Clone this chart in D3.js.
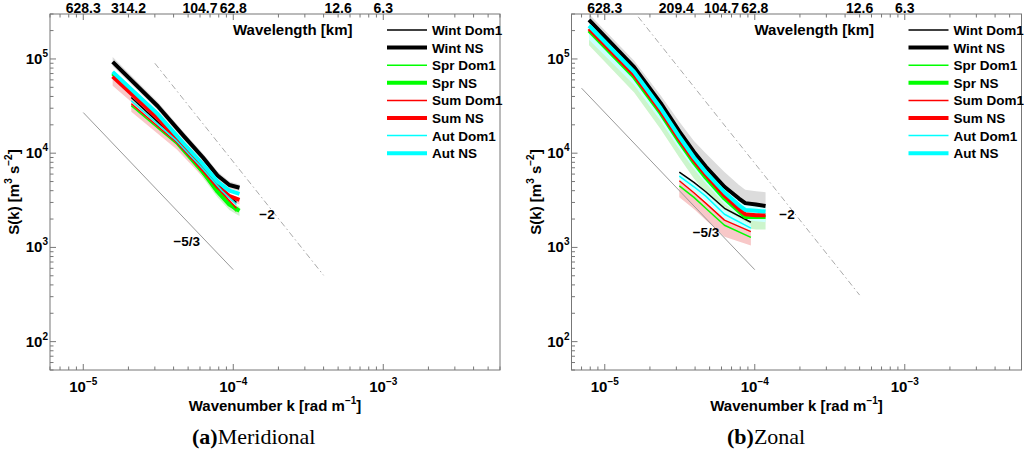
<!DOCTYPE html>
<html>
<head>
<meta charset="utf-8">
<script src="https://cdn.jsdelivr.net/npm/d3@7/dist/d3.min.js"></script>
<style>
  body { margin: 0; background: #fff; }
  text { font-family: "Liberation Sans", Arial, sans-serif; font-weight: bold; fill: #000; }
</style>
</head>
<body>
<svg id="chart" width="1024" height="457"></svg>
<script>
// legend / series
var seriesNames = ["Wint Dom1", "Wint NS", "Spr Dom1", "Spr NS", "Sum Dom1", "Sum NS", "Aut Dom1", "Aut NS"];
var seriesColors = ["#000000", "#000000", "#00ff00", "#00ff00", "#ff0000", "#ff0000", "#00ffff", "#00ffff"];

// wavelength axis (top)
var merTopK = [1e-5, 2e-5, 6e-5, 1e-4, 5e-4, 1e-3];
var merTopLabels = ["628.3", "314.2", "104.7", "62.8", "12.6", "6.3"];
var zonTopK = [1e-5, 3e-5, 6e-5, 1e-4, 5e-4, 1e-3];
var zonTopLabels = ["628.3", "209.4", "104.7", "62.8", "12.6", "6.3"];

// ---- (a) Meridional ----
var merKNS = [1.57e-5, 3.14e-5, 4.71e-5, 6.28e-5, 7.85e-5, 9.42e-5, 1.1e-4];
var merKDom1 = [2.09e-5, 4.19e-5, 6.28e-5, 8.38e-5, 1.05e-4];
var merWintDom1 = [3.9e4, 1.4e4, 7.2e3, 4.3e3, 3.0e3];
var merWintNS = [9.3e4, 3.15e4, 1.5e4, 9.0e3, 5.8e3, 4.6e3, 4.3e3];
var merSprDom1 = [3.2e4, 1.25e4, 6.0e3, 3.5e3, 2.4e3];
var merSprNS = [7.0e4, 2.45e4, 1.1e4, 6.3e3, 3.9e3, 2.85e3, 2.45e3];
var merSumDom1 = [3.35e4, 1.3e4, 6.5e3, 3.8e3, 2.6e3];
var merSumNS = [6.5e4, 2.35e4, 1.12e4, 6.7e3, 4.4e3, 3.5e3, 3.2e3];
var merAutDom1 = [3.6e4, 1.35e4, 6.8e3, 4.0e3, 2.85e3];
var merAutNS = [7.3e4, 2.6e4, 1.25e4, 7.6e3, 5.0e3, 4.0e3, 3.7e3];
// spread (shaded)
var merWintNSLo = [8.4e4, 2.85e4, 1.36e4, 8.2e3, 5.3e3, 4.2e3, 3.95e3];
var merWintNSHi = [1.05e5, 3.5e4, 1.65e4, 9.9e3, 6.4e3, 5.0e3, 4.65e3];
var merSprNSLo = [6.3e4, 2.2e4, 9.8e3, 5.5e3, 3.4e3, 2.5e3, 2.15e3];
var merSprNSHi = [7.4e4, 2.6e4, 1.17e4, 6.7e3, 4.2e3, 3.1e3, 2.7e3];
var merSumNSLo = [5.2e4, 2.0e4, 9.6e3, 5.8e3, 3.9e3, 3.1e3, 2.85e3];
var merSumNSHi = [6.9e4, 2.5e4, 1.18e4, 7.0e3, 4.6e3, 3.7e3, 3.35e3];
var merSumDom1Lo = [2.75e4, 1.1e4, 5.6e3, 3.3e3, 2.3e3];
var merSumDom1Hi = [3.6e4, 1.38e4, 6.9e3, 4.0e3, 2.75e3];
// reference slopes
var merSlope53K = [1e-5, 1e-4], merSlope53S = [2.7e4, 580];
var merSlope2K = [3e-5, 4e-4], merSlope2S = [9.0e4, 506];

// ---- (b) Zonal ----
var zonKNS = [7.85e-6, 1.57e-5, 2.36e-5, 3.14e-5, 3.93e-5, 4.71e-5, 6.28e-5, 7.85e-5, 8.64e-5, 1.02e-4, 1.18e-4];
var zonKDom1 = [3.14e-5, 3.93e-5, 4.71e-5, 6.28e-5, 9.42e-5];
var zonWintDom1 = [6.3e3, 4.9e3, 3.9e3, 2.6e3, 1.85e3];
var zonWintNS = [2.6e5, 8.2e4, 3.4e4, 1.7e4, 1.03e4, 7.2e3, 4.4e3, 3.3e3, 2.95e3, 2.85e3, 2.75e3];
var zonSprDom1 = [4.5e3, 3.4e3, 2.6e3, 1.72e3, 1.28e3];
var zonSprNS = [2.0e5, 6.4e4, 2.65e4, 1.32e4, 7.9e3, 5.5e3, 3.3e3, 2.4e3, 2.1e3, 2.1e3, 2.1e3];
var zonSumDom1 = [5.1e3, 3.8e3, 2.95e3, 1.95e3, 1.47e3];
var zonSumNS = [2.1e5, 6.8e4, 2.8e4, 1.4e4, 8.4e3, 5.9e3, 3.55e3, 2.55e3, 2.25e3, 2.2e3, 2.2e3];
var zonAutDom1 = [5.7e3, 4.4e3, 3.5e3, 2.25e3, 1.6e3];
var zonAutNS = [2.25e5, 7.3e4, 3.0e4, 1.5e4, 9.0e3, 6.3e3, 3.85e3, 2.8e3, 2.5e3, 2.45e3, 2.4e3];
var zonWintNSLo = [2.2e5, 7.0e4, 2.9e4, 1.45e4, 8.8e3, 6.2e3, 3.8e3, 2.8e3, 2.5e3, 2.4e3, 2.35e3];
var zonWintNSHi = [3.0e5, 9.6e4, 4.1e4, 2.15e4, 1.35e4, 1.0e4, 6.3e3, 4.6e3, 4.1e3, 3.95e3, 3.85e3];
var zonSprNSLo = [1.4e5, 4.4e4, 1.8e4, 9.0e3, 5.4e3, 3.8e3, 2.3e3, 1.75e3, 1.6e3, 1.55e3, 1.55e3];
var zonSprNSHi = [2.1e5, 6.8e4, 2.8e4, 1.4e4, 8.4e3, 5.9e3, 3.5e3, 2.5e3, 2.2e3, 2.2e3, 2.2e3];
var zonAutNSLo = [1.6e5, 5.3e4, 2.2e4, 1.1e4, 6.8e3, 4.8e3, 2.9e3, 2.15e3, 1.95e3, 1.9e3, 1.85e3];
var zonAutNSHi = [2.5e5, 8.0e4, 3.3e4, 1.65e4, 1.0e4, 7.0e3, 4.3e3, 3.1e3, 2.8e3, 2.75e3, 2.7e3];
var zonSumDom1Lo = [3.4e3, 2.55e3, 1.95e3, 1.3e3, 1.05e3];
var zonSumDom1Hi = [5.1e3, 3.8e3, 2.95e3, 1.95e3, 1.47e3];
var zonAutDom1Lo = [5.0e3, 3.9e3, 3.1e3, 2.0e3, 1.45e3];
var zonAutDom1Hi = [6.2e3, 4.8e3, 3.8e3, 2.5e3, 1.75e3];
var zonSlope53K = [7e-6, 1e-4], zonSlope53S = [4.9e4, 580];
var zonSlope2K = [1.67e-5, 5e-4], zonSlope2S = [2.8e5, 312];

var svg = d3.select("#chart");
var plotTop = 14, plotBottom = 370, plotW = 450;
var axisColor = "#777";

var panels = [
  { x0: 50, tag: "a", title: "Meridional", capX: 192, topK: merTopK, topLabels: merTopLabels,
    kNS: merKNS, kDom1: merKDom1,
    series: [merWintDom1, merWintNS, merSprDom1, merSprNS, merSumDom1, merSumNS, merAutDom1, merAutNS],
    bands: [
      { k: merKNS, lo: merWintNSLo, hi: merWintNSHi, fill: "#dcdcdc" },
      { k: merKNS, lo: merSprNSLo, hi: merSprNSHi, fill: "#ccf5cc" },
      { k: merKNS, lo: merSumNSLo, hi: merSumNSHi, fill: "#f8c8c8" },
      { k: merKDom1, lo: merSumDom1Lo, hi: merSumDom1Hi, fill: "#f8c8c8" }
    ],
    s53: [merSlope53K, merSlope53S], s2: [merSlope2K, merSlope2S],
    l53: [4.9e-5, 1.03e3], l2: [1.68e-4, 2.0e3] },
  { x0: 571.5, tag: "b", title: "Zonal", capX: 727, topK: zonTopK, topLabels: zonTopLabels,
    kNS: zonKNS, kDom1: zonKDom1,
    series: [zonWintDom1, zonWintNS, zonSprDom1, zonSprNS, zonSumDom1, zonSumNS, zonAutDom1, zonAutNS],
    bands: [
      { k: zonKNS, lo: zonWintNSLo, hi: zonWintNSHi, fill: "#dcdcdc" },
      { k: zonKNS, lo: zonSprNSLo, hi: zonSprNSHi, fill: "#ccf5cc" },
      { k: zonKNS, lo: zonAutNSLo, hi: zonAutNSHi, fill: "#ccffff" },
      { k: zonKDom1, lo: zonSumDom1Lo, hi: zonSumDom1Hi, fill: "#f8c8c8" },
      { k: zonKDom1, lo: zonAutDom1Lo, hi: zonAutDom1Hi, fill: "#ccffff" }
    ],
    s53: [zonSlope53K, zonSlope53S], s2: [zonSlope2K, zonSlope2S],
    l53: [4.73e-5, 1.29e3], l2: [1.64e-4, 2.0e3] }
];

function isMajor(t) {
  var l = Math.log10(t);
  return Math.abs(l - Math.round(l)) < 1e-9;
}

function sup(sel, base, expo) {
  sel.append("tspan").text(base);
  sel.append("tspan").attr("dy", -7).attr("font-size", 10).text(expo);
}

panels.forEach(function(p, pi) {
  var x = d3.scaleLog().domain([6e-6, 6e-3]).range([p.x0, p.x0 + plotW]);
  var y = d3.scaleLog().domain([50, 3e5]).range([plotBottom, plotTop]);
  var g = svg.append("g");

  var clipId = "clip" + pi;
  svg.append("clipPath").attr("id", clipId).append("rect")
    .attr("x", p.x0).attr("y", plotTop).attr("width", plotW).attr("height", plotBottom - plotTop);
  var data = g.append("g").attr("clip-path", "url(#" + clipId + ")");

  // shaded spread
  p.bands.forEach(function(b) {
    var area = d3.area()
      .x(function(d, i) { return x(b.k[i]); })
      .y0(function(d, i) { return y(b.lo[i]); })
      .y1(function(d, i) { return y(b.hi[i]); });
    data.append("path").attr("d", area(b.k)).attr("fill", b.fill).attr("stroke", "none");
  });

  // reference slopes
  var ref = d3.line().x(function(d) { return x(d[0]); }).y(function(d) { return y(d[1]); });
  data.append("path").attr("d", ref(d3.zip(p.s53[0], p.s53[1])))
    .attr("stroke", "#999").attr("stroke-width", 1).attr("fill", "none");
  data.append("path").attr("d", ref(d3.zip(p.s2[0], p.s2[1])))
    .attr("stroke", "#aaa").attr("stroke-width", 1).attr("fill", "none")
    .attr("stroke-dasharray", "6,3,1.5,3");

  // spectra
  p.series.forEach(function(s, i) {
    var ks = (i % 2 === 0) ? p.kDom1 : p.kNS;
    data.append("path").attr("d", ref(d3.zip(ks, s)))
      .attr("stroke", seriesColors[i])
      .attr("stroke-width", i % 2 === 0 ? 1.5 : 4)
      .attr("stroke-linejoin", "round")
      .attr("fill", "none");
  });

  g.append("text").attr("x", x(p.l53[0])).attr("y", y(p.l53[1]))
    .attr("text-anchor", "middle").attr("font-size", 13.5).text("\u22125/3");
  g.append("text").attr("x", x(p.l2[0])).attr("y", y(p.l2[1]))
    .attr("text-anchor", "middle").attr("font-size", 13.5).text("\u22122");

  // frame + ticks
  g.append("rect").attr("x", p.x0).attr("y", plotTop).attr("width", plotW)
    .attr("height", plotBottom - plotTop).attr("fill", "none").attr("stroke", axisColor);

  x.ticks().forEach(function(t) {
    var len = isMajor(t) ? 6 : 3.5, xx = x(t);
    g.append("line").attr("x1", xx).attr("x2", xx).attr("y1", plotBottom).attr("y2", plotBottom - len)
      .attr("stroke", axisColor);
    g.append("line").attr("x1", xx).attr("x2", xx).attr("y1", plotTop).attr("y2", plotTop + len)
      .attr("stroke", axisColor);
    if (isMajor(t)) {
      var tx = g.append("text").attr("x", xx).attr("y", 392).attr("text-anchor", "middle").attr("font-size", 15);
      sup(tx, "10", "\u2212" + Math.abs(Math.round(Math.log10(t))));
    }
  });
  y.ticks().forEach(function(t) {
    var len = isMajor(t) ? 6 : 3.5, yy = y(t);
    g.append("line").attr("x1", p.x0).attr("x2", p.x0 + len).attr("y1", yy).attr("y2", yy)
      .attr("stroke", axisColor);
    if (isMajor(t)) {
      var ty = g.append("text").attr("x", p.x0 - 2).attr("y", yy + 5).attr("text-anchor", "end").attr("font-size", 15);
      sup(ty, "10", String(Math.round(Math.log10(t))));
    }
  });

  // wavelength labels on top
  p.topK.forEach(function(k, i) {
    g.append("text").attr("x", x(k)).attr("y", 13).attr("text-anchor", "middle")
      .attr("font-size", 14).text(p.topLabels[i]);
  });
  g.append("text").attr("x", p.x0 + 183).attr("y", 35).attr("font-size", 15).text("Wavelength [km]");

  // axis titles
  var xt = g.append("text").attr("x", p.x0 + plotW / 2).attr("y", 411)
    .attr("text-anchor", "middle").attr("font-size", 15);
  xt.append("tspan").text("Wavenumber k [rad m");
  xt.append("tspan").attr("dy", -7).attr("font-size", 10).text("\u22121");
  xt.append("tspan").attr("dy", 7).text("]");

  var yt = g.append("text").attr("transform", "translate(" + (p.x0 - 31) + "," + 192 + ") rotate(-90)")
    .attr("text-anchor", "middle").attr("font-size", 15);
  yt.append("tspan").text("S(k) [m");
  yt.append("tspan").attr("dy", -7).attr("font-size", 10).text("3");
  yt.append("tspan").attr("dy", 7).text(" s");
  yt.append("tspan").attr("dy", -7).attr("font-size", 10).text("\u22122");
  yt.append("tspan").attr("dy", 7).text("]");

  // legend
  var lx = p.x0 + plotW - 113;
  seriesNames.forEach(function(name, i) {
    var ly = 30 + i * 17.6;
    g.append("line").attr("x1", lx).attr("x2", lx + 40).attr("y1", ly).attr("y2", ly)
      .attr("stroke", seriesColors[i]).attr("stroke-width", i % 2 === 0 ? 1.5 : 4);
    g.append("text").attr("x", lx + 45).attr("y", ly + 5).attr("font-size", 13.5).text(name);
  });

  // caption
  var cap = svg.append("text").attr("x", p.capX).attr("y", 444)
    .style("font-family", "'Liberation Serif', 'Times New Roman', serif")
    .style("font-weight", "normal").attr("font-size", 22);
  cap.append("tspan").style("font-weight", "bold").text("(" + p.tag + ")");
  cap.append("tspan").text(p.title);
});
</script>
</body>
</html>
